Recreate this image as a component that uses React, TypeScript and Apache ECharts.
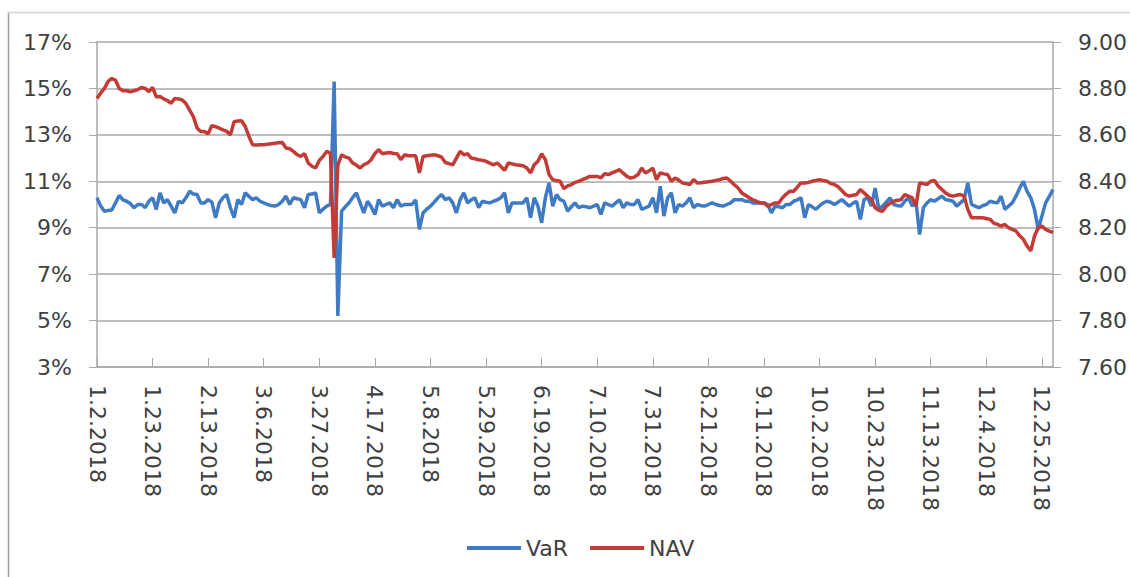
import React, { useEffect, useRef } from "react";
import * as echarts from "echarts";

// Weekday categories from 1.2.2018 to 12.28.2018 (M.D.YYYY)
const categories: string[] = (() => {
  const out: string[] = [];
  const start = Date.UTC(2018, 0, 2);
  for (let d = 0; d < 361; d++) {
    const dt = new Date(start + d * 86400000);
    const wd = dt.getUTCDay();
    if (wd === 0 || wd === 6) continue;
    out.push(`${dt.getUTCMonth() + 1}.${dt.getUTCDate()}.${dt.getUTCFullYear()}`);
  }
  return out;
})();

const seriesNames = ["VaR", "NAV"];

// VaR, % (left axis)
const varValues = [
  10.29, 9.93, 9.71, 9.74, 9.76, 10.07, 10.39, 10.2, 10.14, 10.04,
  9.86, 10.0, 10.0, 9.86, 10.14, 10.29, 9.79, 10.5, 10.07, 10.21,
  9.93, 9.64, 10.14, 10.07, 10.29, 10.57, 10.45, 10.43, 10.07, 10.07,
  10.21, 10.1, 9.43, 10.07, 10.29, 10.43, 9.86, 9.43, 10.21, 10.0,
  10.5, 10.35, 10.21, 10.29, 10.14, 10.07, 10.0, 9.96, 9.93, 10.0,
  10.14, 10.36, 10.0, 10.29, 10.25, 10.21, 9.86, 10.43, 10.45, 10.5,
  9.64, 9.8, 9.93, 10.0, 15.3, 5.2, 9.71, 9.9, 10.07, 10.3,
  10.5, 10.07, 9.64, 10.14, 9.9, 9.57, 10.21, 9.93, 10.0, 10.07,
  9.86, 10.21, 9.93, 10.0, 10.0, 10.0, 10.2, 8.93, 9.64, 9.8,
  9.93, 10.1, 10.29, 10.43, 10.21, 10.29, 10.07, 9.64, 10.21, 10.5,
  10.07, 10.2, 10.29, 9.86, 10.14, 10.1, 10.07, 10.14, 10.2, 10.29,
  10.5, 9.64, 10.07, 10.07, 10.07, 10.07, 10.29, 9.43, 10.29, 9.93,
  9.21, 10.29, 10.93, 9.93, 10.43, 10.21, 10.14, 9.71, 9.9, 10.07,
  9.86, 9.93, 9.9, 9.86, 9.93, 10.0, 9.57, 10.07, 10.0, 9.93,
  10.07, 10.2, 9.86, 10.07, 10.0, 10.0, 10.21, 9.79, 9.86, 9.93,
  10.29, 9.64, 10.79, 9.5, 10.29, 10.5, 9.64, 10.0, 9.93, 10.07,
  10.29, 9.86, 10.0, 9.95, 9.93, 10.0, 10.07, 10.0, 9.96, 9.93,
  10.0, 10.07, 10.21, 10.2, 10.21, 10.14, 10.14, 10.07, 10.07, 10.07,
  10.07, 10.0, 9.64, 9.93, 9.9, 9.86, 10.0, 10.0, 10.14, 10.2,
  10.29, 9.43, 10.0, 9.9, 9.79, 9.95, 10.07, 10.14, 10.1, 10.0,
  10.1, 10.21, 10.07, 9.93, 10.05, 10.14, 9.36, 10.21, 10.29, 9.93,
  10.71, 9.79, 9.93, 10.1, 10.29, 10.0, 9.95, 9.93, 10.14, 10.29,
  9.93, 10.14, 8.71, 9.86, 10.07, 10.21, 10.14, 10.25, 10.36, 10.21,
  10.18, 10.14, 9.93, 10.07, 10.21, 10.93, 10.0, 9.93, 9.86, 9.95,
  10.0, 10.14, 10.1, 10.07, 10.36, 9.79, 9.93, 10.07, 10.36, 10.7,
  11.0, 10.57, 10.29, 9.79, 8.93, 9.5, 10.07, 10.35, 10.64,
];

// NAV (right axis)
const navValues = [
  8.757, 8.78, 8.8, 8.83, 8.843, 8.835, 8.8, 8.79, 8.79, 8.786,
  8.79, 8.795, 8.804, 8.8, 8.786, 8.804, 8.764, 8.765, 8.755, 8.748,
  8.736, 8.757, 8.755, 8.75, 8.735, 8.707, 8.679, 8.63, 8.614, 8.614,
  8.605, 8.64, 8.635, 8.629, 8.621, 8.615, 8.6, 8.657, 8.66, 8.661,
  8.636, 8.593, 8.557, 8.556, 8.557, 8.557, 8.56, 8.562, 8.564, 8.566,
  8.567, 8.543, 8.54, 8.529, 8.515, 8.507, 8.519, 8.479, 8.465, 8.457,
  8.49, 8.507, 8.529, 8.52, 8.07, 8.47, 8.514, 8.505, 8.5, 8.479,
  8.47, 8.457, 8.471, 8.479, 8.493, 8.52, 8.536, 8.519, 8.522, 8.524,
  8.52, 8.519, 8.493, 8.514, 8.51, 8.51, 8.51, 8.436, 8.507, 8.51,
  8.512, 8.514, 8.51, 8.504, 8.481, 8.476, 8.471, 8.5, 8.529, 8.514,
  8.519, 8.5, 8.497, 8.493, 8.49, 8.486, 8.478, 8.471, 8.479, 8.464,
  8.447, 8.479, 8.475, 8.471, 8.469, 8.467, 8.457, 8.436, 8.471, 8.486,
  8.519, 8.493, 8.429, 8.407, 8.403, 8.4, 8.368, 8.38, 8.386, 8.395,
  8.4, 8.407, 8.414, 8.421, 8.421, 8.421, 8.415, 8.433, 8.429, 8.436,
  8.443, 8.45, 8.435, 8.421, 8.414, 8.418, 8.429, 8.457, 8.436, 8.445,
  8.457, 8.407, 8.436, 8.432, 8.429, 8.4, 8.414, 8.405, 8.393, 8.39,
  8.386, 8.407, 8.393, 8.394, 8.396, 8.398, 8.4, 8.404, 8.407, 8.412,
  8.414, 8.4, 8.385, 8.371, 8.35, 8.34, 8.329, 8.32, 8.314, 8.307,
  8.307, 8.293, 8.3, 8.307, 8.307, 8.329, 8.345, 8.357, 8.357, 8.375,
  8.393, 8.393, 8.395, 8.4, 8.404, 8.407, 8.403, 8.4, 8.39, 8.386,
  8.376, 8.36, 8.343, 8.336, 8.34, 8.343, 8.364, 8.35, 8.335, 8.321,
  8.286, 8.275, 8.271, 8.293, 8.305, 8.314, 8.318, 8.321, 8.343, 8.336,
  8.329, 8.293, 8.393, 8.39, 8.386, 8.4, 8.404, 8.379, 8.365, 8.35,
  8.34, 8.336, 8.34, 8.343, 8.336, 8.279, 8.243, 8.243, 8.243, 8.243,
  8.24, 8.236, 8.22, 8.214, 8.207, 8.214, 8.2, 8.193, 8.186, 8.165,
  8.15, 8.121, 8.1, 8.164, 8.2, 8.207, 8.193, 8.185, 8.179,
];

const FONT = "DejaVu Sans";
const TEXT = "#404040";
const GRID = "#a9a9a9";

export default function App() {
  const ref = useRef<HTMLDivElement>(null);
  useEffect(() => {
    if (!ref.current) return;
    const chart = echarts.init(ref.current, null, { renderer: "svg" });
    chart.setOption({
      animation: false,
      backgroundColor: "#ffffff",
      graphic: [
        { type: "line", shape: { x1: 8.5, y1: 12, x2: 8.5, y2: 577 }, style: { stroke: "#a0a0a0", lineWidth: 1.5 } },
        { type: "line", shape: { x1: 8, y1: 12.5, x2: 1130, y2: 12.5 }, style: { stroke: "#d4d4d4", lineWidth: 1.5 } },
      ],
      grid: { left: 97, right: 75, top: 42, bottom: 210, containLabel: false },
      legend: {
        data: seriesNames,
        left: 462,
        top: 532,
        icon: "rect",
        itemWidth: 54,
        itemHeight: 4,
        itemGap: 22,
        textStyle: { fontFamily: FONT, fontSize: 22, color: TEXT },
      },
      xAxis: {
        type: "category",
        data: categories,
        boundaryGap: false,
        axisLine: { lineStyle: { color: GRID, width: 1.5 } },
        axisTick: { inside: true, length: 9, interval: 14, lineStyle: { color: GRID } },
        axisLabel: {
          interval: 14,
          rotate: -90,
          margin: 18,
          fontFamily: FONT,
          fontSize: 22,
          color: TEXT,
        },
        splitLine: { show: false },
      },
      yAxis: [
        {
          type: "value",
          min: 3,
          max: 17,
          interval: 2,
          axisLine: { show: true, lineStyle: { color: GRID, width: 1.5 } },
          axisTick: { show: true, length: 8, lineStyle: { color: GRID } },
          axisLabel: {
            formatter: (v: number) => `${v}%`,
            margin: 25,
            fontFamily: FONT,
            fontSize: 22,
            color: TEXT,
          },
          splitLine: { show: true, lineStyle: { color: GRID, width: 1.5 } },
        },
        {
          type: "value",
          position: "right",
          min: 7.6,
          max: 9.0,
          interval: 0.2,
          axisLine: { show: true, lineStyle: { color: GRID, width: 1.5 } },
          axisTick: { show: true, length: 8, lineStyle: { color: GRID } },
          axisLabel: {
            formatter: (v: number) => v.toFixed(2),
            margin: 25,
            fontFamily: FONT,
            fontSize: 22,
            color: TEXT,
          },
          splitLine: { show: false },
        },
      ],
      series: [
        {
          name: seriesNames[0],
          type: "line",
          yAxisIndex: 0,
          data: varValues,
          symbol: "none",
          lineStyle: { color: "#3f7bc4", width: 3.5 },
          itemStyle: { color: "#3f7bc4" },
        },
        {
          name: seriesNames[1],
          type: "line",
          yAxisIndex: 1,
          data: navValues,
          symbol: "none",
          lineStyle: { color: "#c23b36", width: 3.5 },
          itemStyle: { color: "#c23b36" },
        },
      ],
    });
    return () => chart.dispose();
  }, []);
  return (
    <div
      ref={ref}
      style={{ position: "absolute", left: 0, top: 0, width: 1130, height: 577 }}
    />
  );
}
